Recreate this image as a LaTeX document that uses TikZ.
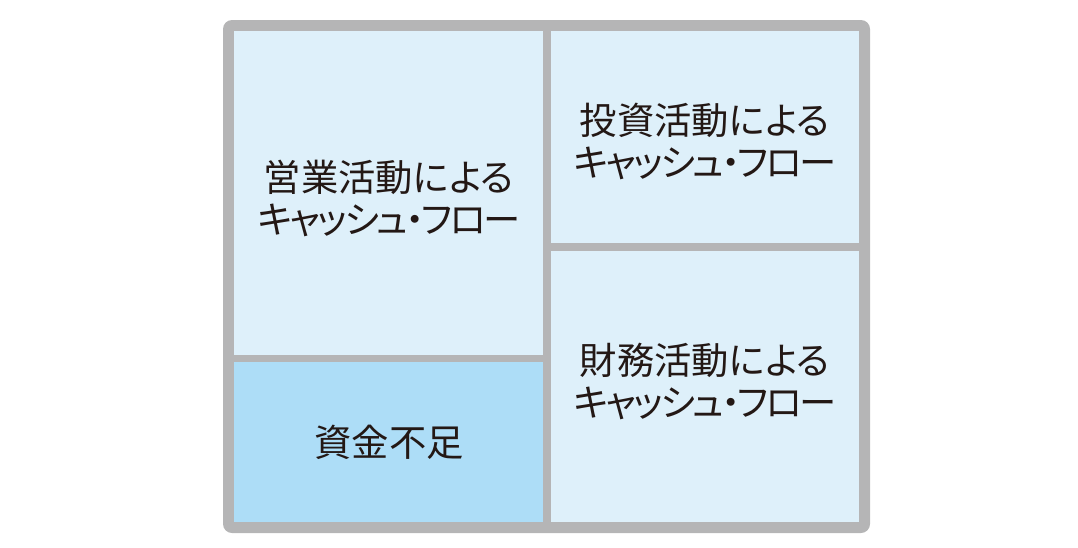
\documentclass[tikz,border=0pt]{standalone}
\usepackage{fontspec}
\newfontfamily\jpfont[RawFeature=+palt]{Noto Sans CJK JP}
\newfontfamily\jpkana[RawFeature=+palt, LetterSpace=-7]{Noto Sans CJK JP}
\definecolor{framegray}{RGB}{181,181,182}
\definecolor{celllight}{RGB}{222,240,250}
\definecolor{celldark}{RGB}{173,221,247}
\definecolor{inkblack}{RGB}{35,24,21}
\newcommand{\cashflow}{{\jpkana キャッシュ・フロー}}
\tikzset{
  cell/.style={draw=none, inner sep=0pt, outer sep=0pt},
  label text/.style={inner sep=0.75pt, align=center, text=inkblack, font=\jpfont\fontsize{28}{31.5}\selectfont}
}
\begin{document}
\begin{tikzpicture}[x=0.75pt,y=0.75pt,yscale=-1,xscale=1]
        \useasboundingbox (0,0) rectangle (1078,547);
        
        %Shape: Rounded Rectangle [id:frame] 
        \draw [fill=framegray, draw=none, rounded corners=6.75pt] (223,20) rectangle (870,533) ;
        %Shape: Rectangle [id:operating] 
        \node [cell, fill=celllight, minimum width=231.75pt, minimum height=243pt] (operating) at (388.5,193) {};
        %Shape: Rectangle [id:shortage] 
        \node [cell, fill=celldark, minimum width=231.75pt, minimum height=120pt] (shortage) at (388.5,442) {};
        %Shape: Rectangle [id:investing] 
        \node [cell, fill=celllight, minimum width=231pt, minimum height=159pt] (investing) at (705,137) {};
        %Shape: Rectangle [id:financing] 
        \node [cell, fill=celllight, minimum width=231pt, minimum height=203.25pt] (financing) at (705,386.5) {};
        
        % Text Node
        \node [label text] (operatingtext) at (389,198) {営業活動による\\\cashflow};
        % Text Node
        \node [label text] (investingtext) at (705,141) {投資活動による\\\cashflow};
        % Text Node
        \node [label text] (financingtext) at (705,381) {財務活動による\\\cashflow};
        % Text Node
        \node [label text] (shortagetext) at (389,442) {資金不足};
        
        
        \end{tikzpicture}
\end{document}
